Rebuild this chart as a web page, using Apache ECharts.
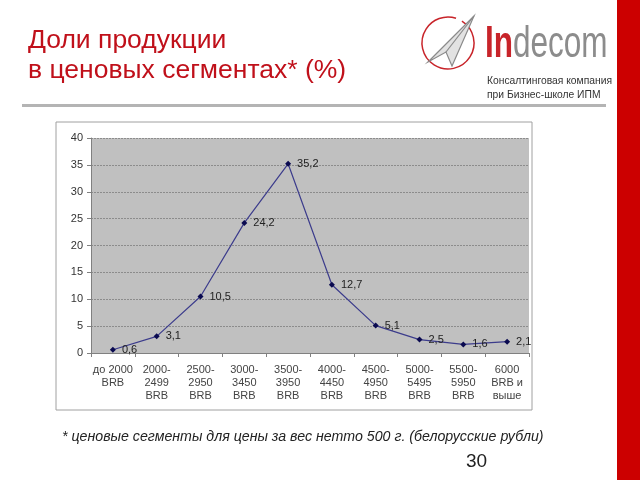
<!DOCTYPE html>
<html><head><meta charset="utf-8">
<script src="https://cdn.jsdelivr.net/npm/echarts@6/dist/echarts.min.js"></script>
<style>html,body{margin:0;padding:0;background:#fff}#c{width:640px;height:480px}</style>
</head><body><div id="c"></div>
<script>
const categories = ['до 2000\nBRB','2000-\n2499\nBRB','2500-\n2950\nBRB','3000-\n3450\nBRB','3500-\n3950\nBRB','4000-\n4450\nBRB','4500-\n4950\nBRB','5000-\n5495\nBRB','5500-\n5950\nBRB','6000\nBRB и\nвыше'];
const shares = [0.6, 3.1, 10.5, 24.2, 35.2, 12.7, 5.1, 2.5, 1.6, 2.1];
const yTicks = [0, 5, 10, 15, 20, 25, 30, 35, 40];

const chart = echarts.init(document.getElementById('c'), null, {renderer:'canvas'});
const F = 'Liberation Sans, Arial, sans-serif';
chart.setOption({
  animation:false,
  backgroundColor:'#fff',
  graphic:[
    {type:'rect', shape:{x:617,y:0,width:23,height:480}, style:{fill:'#cc0000'}},
    {type:'rect', shape:{x:56,y:122,width:476,height:288}, style:{fill:'#fff', stroke:'#a0a0a0', lineWidth:1}, z:-1},
    {type:'text', left:28, top:27, style:{text:'Доли продукции', font:'26.5px '+F, fill:'#c0101a'}},
    {type:'text', left:28, top:57, style:{text:'в ценовых сегментах* (%)', font:'26.5px '+F, fill:'#c0101a'}},
    {type:'rect', shape:{x:22,y:104,width:584,height:3}, style:{fill:'#b4b4b4'}},
    {type:'arc', shape:{cx:448,cy:43,r:26,startAngle:-Math.PI*0.32,endAngle:Math.PI*1.6}, style:{stroke:'#c8242a', lineWidth:1.5, fill:null}},
    {type:'polygon', shape:{points:[[474,16],[428,62],[446,52],[452,66]]}, style:{fill:'#e2e2e2', stroke:'#8a8a8a', lineWidth:1.2}},
    {type:'polyline', shape:{points:[[474,16],[446,52]]}, style:{stroke:'#8a8a8a', lineWidth:1.2}},
    {type:'text', x:485, y:22, scaleX:0.7, scaleY:1, originX:0, originY:0,
      style:{text:'{a|In}{b|decom}', rich:{
        a:{font:'bold 45px '+F, fill:'#c8242a'},
        b:{font:'45px '+F, fill:'#8c8c8c'}}}},
    {type:'text', left:487, top:76, style:{text:'Консалтинговая компания', font:'10.3px '+F, fill:'#333'}},
    {type:'text', left:487, top:90, style:{text:'при Бизнес-школе ИПМ', font:'10.3px '+F, fill:'#333'}},
    {type:'text', left:62, top:430, style:{text:'* ценовые сегменты для цены за вес нетто 500 г. (белорусские рубли)', font:'italic 14.2px '+F, fill:'#222'}},
    {type:'text', left:466, top:452, style:{text:'30', font:'19px '+F, fill:'#222'}}
  ],
  grid:{left:91, right:111, top:138, bottom:127, show:true, backgroundColor:'#c0c0c0', borderWidth:0},
  xAxis:{type:'category', data:categories, boundaryGap:true,
    axisLine:{lineStyle:{color:'#808080'}},
    axisTick:{show:true, lineStyle:{color:'#808080'}, length:4},
    axisLabel:{interval:0, color:'#444', fontFamily:F, fontSize:11, lineHeight:13, margin:10}},
  yAxis:{type:'value', min:0, max:40, interval:5,
    axisLine:{show:true, lineStyle:{color:'#808080'}},
    axisTick:{show:true, lineStyle:{color:'#808080'}, length:4},
    splitLine:{show:true, lineStyle:{color:'#8c8c8c', type:[2,1], width:1}},
    axisLabel:{color:'#333', fontFamily:F, fontSize:11, margin:8,
      formatter: v => yTicks.includes(v) ? String(v) : ''}},
  series:[{type:'line', data:shares, symbol:'diamond', symbolSize:6,
    lineStyle:{color:'#3c3c8c', width:1.2}, itemStyle:{color:'#0a0a50'},
    label:{show:true, position:'right', distance:6, color:'#222', fontFamily:F, fontSize:11,
      formatter: p => String(p.value).replace('.', ',')}}]
});
</script></body></html>
